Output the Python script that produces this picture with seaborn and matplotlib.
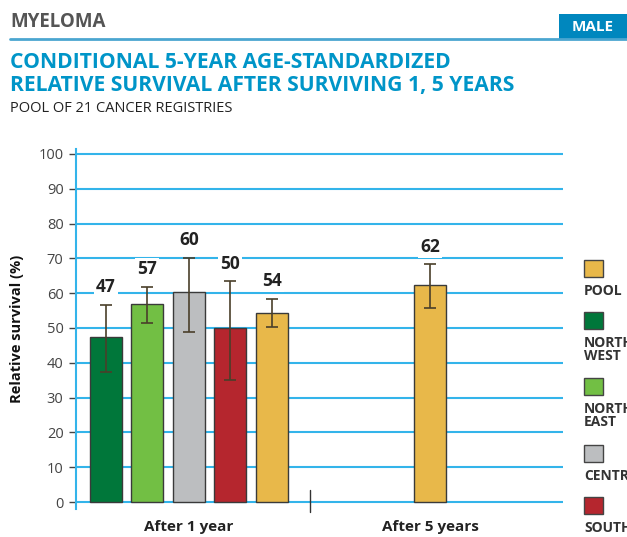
import numpy as np
import pandas as pd
import matplotlib
matplotlib.use('Agg')
import matplotlib.pyplot as plt
import seaborn as sns
from matplotlib.patches import Rectangle

# data
regions = ["NORTH WEST", "NORTH EAST", "CENTRE", "SOUTH", "POOL", "POOL"]
periods = ["After 1 year"] * 5 + ["After 5 years"]
values = [47.4, 56.8, 60.3, 50.0, 54.4, 62.4]
ci_low = [37.3, 51.3, 48.7, 35.0, 50.2, 55.8]
ci_high = [56.7, 61.8, 70.2, 63.4, 58.4, 68.3]
labels = ["47", "57", "60", "50", "54", "62"]
legend_order = ["POOL", "NORTH WEST", "NORTH EAST", "CENTRE", "SOUTH"]
palette = {"NORTH WEST": "#00773A", "NORTH EAST": "#72BF44", "CENTRE": "#BCBEC0",
           "SOUTH": "#B5262E", "POOL": "#E8B84A"}
yticks = list(range(0, 101, 10))

# bar slots: five adjacent bars, then the 5-year bar further right
slot = [0, 1, 2, 3, 4, 7.83]
df = pd.DataFrame({"pos": slot, "value": values, "region": regions, "period": periods})

sns.set_style("white")
plt.rcParams['font.family'] = ['Open Sans', 'DejaVu Sans']

fig = plt.figure(figsize=(6.27, 5.37), dpi=100)
ax = fig.add_axes([76/627, (537-509)/537, (563-76)/627, (509-149)/537])

grid_c = "#33B4EA"
for y in yticks:
    ax.axhline(y, color=grid_c, lw=1.5, zorder=0)

sns.barplot(data=df, x="pos", y="value", hue="region", palette=palette,
            native_scale=True, dodge=False, width=0.77, errorbar=None,
            saturation=1, edgecolor="#3a3a3a", linewidth=1.0, legend=False,
            ax=ax, zorder=2)

v = np.array(values)
err = [v - np.array(ci_low), np.array(ci_high) - v]
ax.errorbar(df["pos"], v, yerr=err, fmt="none", ecolor="#4a3f2a",
            elinewidth=1.2, capsize=4, capthick=1.2, zorder=3)

for x, top, lab in zip(df["pos"], ci_high, labels):
    ax.text(x, top + 5, lab, ha="center", va="center", fontsize=12.5,
            fontweight="bold", color="#222222", zorder=4,
            bbox=dict(facecolor="white", edgecolor="none", pad=1.5))

ax.set_xlim(-0.725, 11.04)
ax.set_ylim(-2, 101.4)
ax.set_yticks(yticks)
ax.set_yticklabels([str(t) for t in yticks], fontsize=10.5, color="#444444")
ax.tick_params(axis="y", length=5, width=1, color="#444444", pad=4, left=True)

grp_centers = [2, 7.83]
ax.set_xticks(grp_centers)
ax.set_xticklabels(["After 1 year", "After 5 years"], fontsize=11,
                   fontweight="bold", color="#222222")
ax.tick_params(axis="x", length=0, pad=8)
ax.set_xlabel("")
ax.set_ylabel("Relative survival (%)", fontsize=10.5, fontweight="bold",
              color="#111111", labelpad=10)

for s in ["top", "right", "bottom"]:
    ax.spines[s].set_visible(False)
ax.spines["left"].set_color(grid_c)
ax.spines["left"].set_linewidth(1.5)

# divider between the two groups
ax.plot([4.93, 4.93], [-2.8, 3.4], color="#333333", lw=1, clip_on=False)

# header
fig.text(10/627, 1 - 22/537, "MYELOMA", fontsize=13.5, fontweight="bold",
         color="#555555", va="center", ha="left")
fig.add_artist(plt.Line2D([10/627, 1], [1 - 39/537, 1 - 39/537],
                          color="#4BA6D0", lw=2, transform=fig.transFigure))
fig.add_artist(Rectangle((559/627, 1 - 39/537), 68/627, 25/537,
                         facecolor="#0087BE", edgecolor="none",
                         transform=fig.transFigure))
fig.text(593/627, 1 - 27/537, "MALE", fontsize=11, fontweight="bold",
         color="white", va="center", ha="center")
fig.text(10/627, 1 - 62/537, "CONDITIONAL 5-YEAR AGE-STANDARDIZED",
         fontsize=15.2, fontweight="bold", color="#0095C8", va="center")
fig.text(10/627, 1 - 86/537, "RELATIVE SURVIVAL AFTER SURVIVING 1, 5 YEARS",
         fontsize=15.2, fontweight="bold", color="#0095C8", va="center")
fig.text(10/627, 1 - 108/537, "POOL OF 21 CANCER REGISTRIES",
         fontsize=10.5, color="#222222", va="center")

# legend on the right
box_y = [260, 312, 378, 445, 497]
for name, by in zip(legend_order, box_y):
    fig.add_artist(Rectangle((584/627, 1 - (by + 17)/537), 19/627, 17/537,
                             facecolor=palette[name], edgecolor="#444444",
                             lw=1, transform=fig.transFigure))
    fig.text(584/627, 1 - (by + 24)/537, name.replace(" ", "\n"),
             fontsize=10, fontweight="bold", color="#333333",
             va="top", ha="left", linespacing=0.95)

fig.savefig("out.png", dpi=100)
